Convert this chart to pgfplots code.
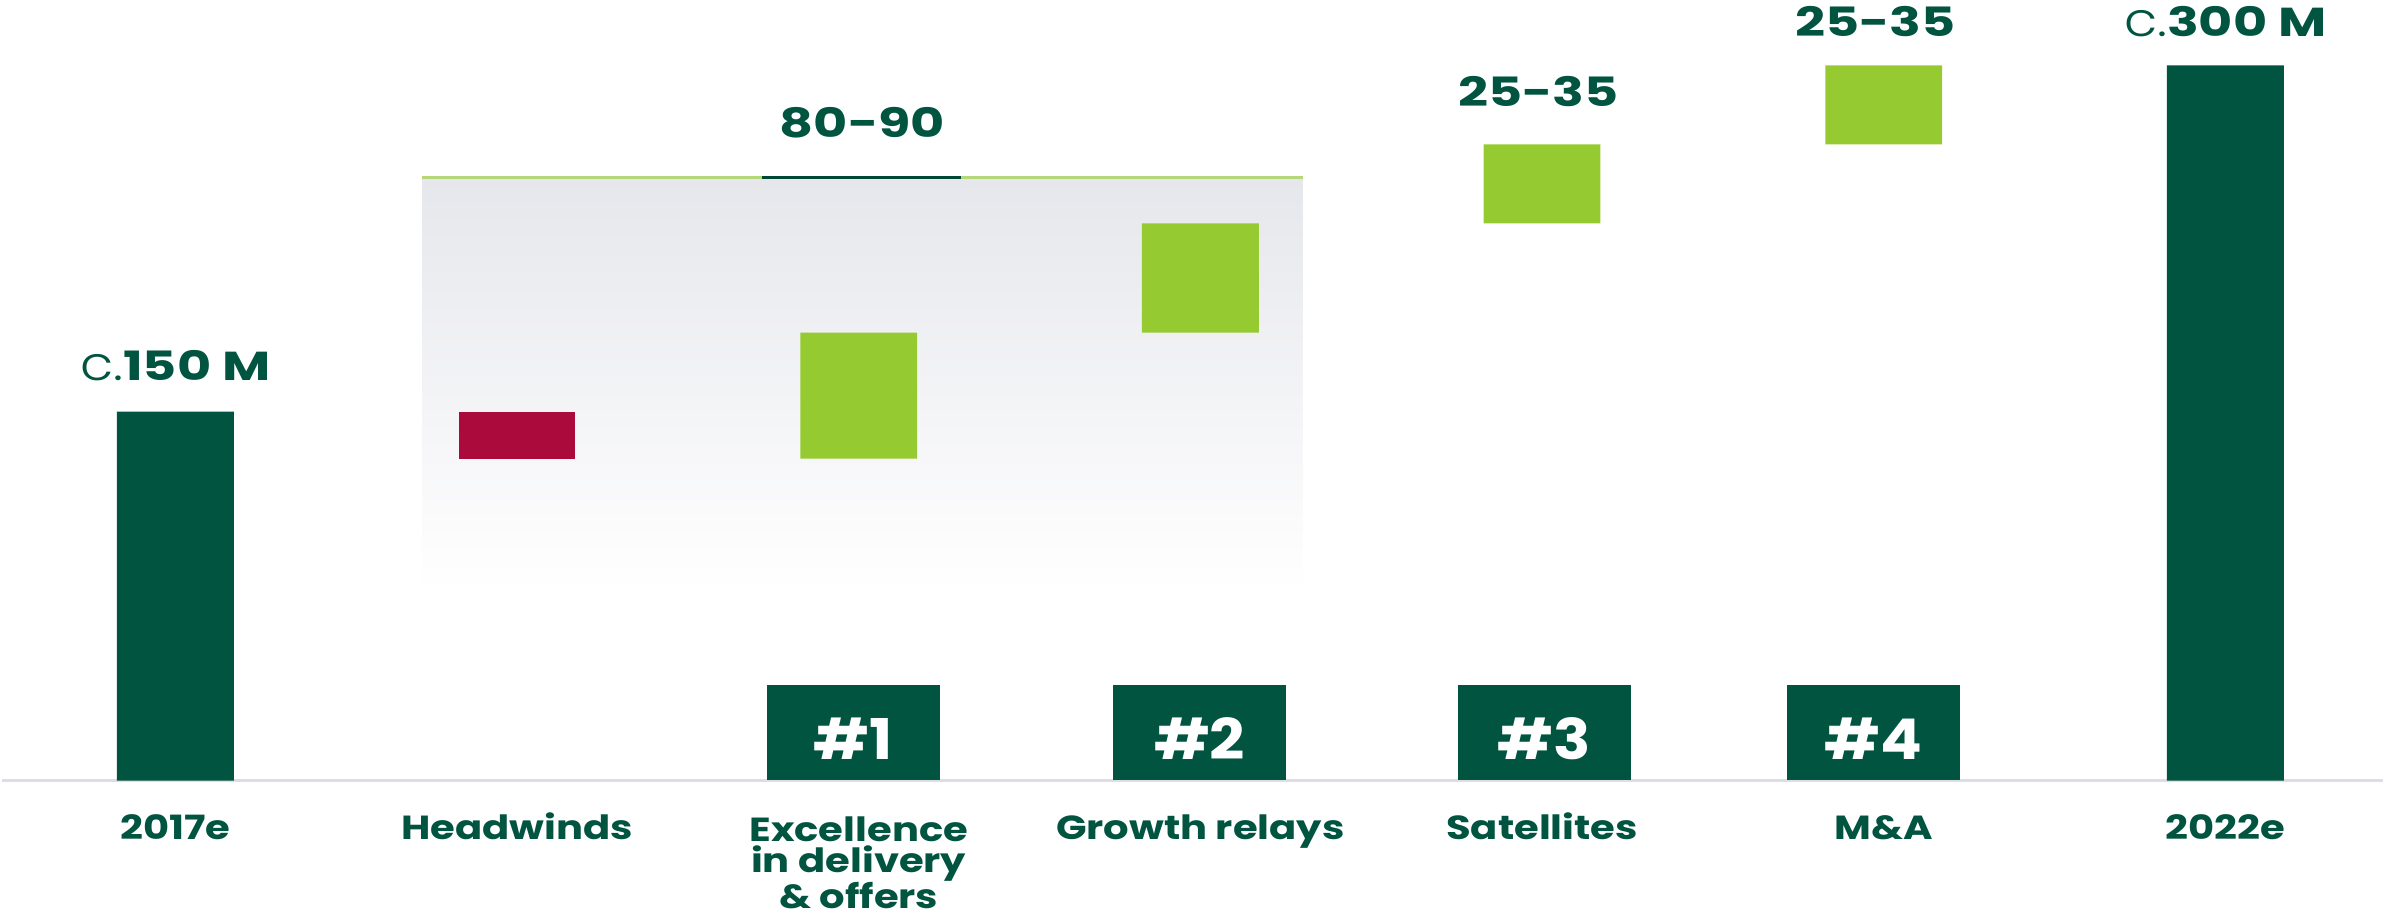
\documentclass[border=0pt]{standalone}
\usepackage{pgfplots}
\pgfplotsset{compat=1.18}
\usepackage{fontspec}
\setmainfont{Poppins}
\newfontfamily\labfont{Poppins}[FakeStretch=1.2]
\newfontfamily\valfont{Poppins}[FakeStretch=1.3]
\newfontfamily\boxfont{Poppins}[FakeStretch=1.1]
\newfontfamily\lightfont{Poppins Light}[FakeStretch=1.15]
\definecolor{dkgreen}{HTML}{005440}
\definecolor{ltgreen}{HTML}{95CB30}
\definecolor{wred}{HTML}{AB0A3D}
\definecolor{gradtop}{HTML}{E6E7EC}
\definecolor{basegray}{HTML}{DDDDE6}
\definecolor{topline}{HTML}{B5D77A}
\tikzset{
  catlab/.style={anchor=base, inner sep=0pt, text=dkgreen, align=center, font=\labfont\bfseries\fontsize{11}{10.8}\selectfont},
  vallab/.style={anchor=base, inner sep=0pt, text=dkgreen, font=\valfont\bfseries\fontsize{13.3}{14}\selectfont},
  boxlab/.style={text=white, anchor=base, inner sep=0pt, font=\boxfont\bfseries\fontsize{18.5}{20}\selectfont},
}
\begin{document}
\begin{tikzpicture}
% background (1 px of the 1568-wide view = 0.5pt; y measured from bottom)
\shade[top color=gradtop, bottom color=white, draw=none] (138.5pt,105.5pt) rectangle (428.5pt,242pt);
\draw[topline, line width=1.2pt] (138.5pt,242pt) -- (428.5pt,242pt);
\draw[dkgreen!85!black, line width=1.2pt] (250.5pt,242pt) -- (316pt,242pt);
\draw[basegray, line width=1pt] (0pt,43.5pt) -- (784pt,43.5pt);
\begin{axis}[
  at={(0pt,0pt)}, anchor=south west,
  scale only axis, width=784pt, height=300.5pt,
  xmin=-0.509, xmax=6.46, ymin=-53.7, ymax=317.3,
  axis lines=none, xtick=\empty, ytick=\empty,
  clip=false,
  ybar stacked, bar width=0.342,
]
% invisible base
\addplot[fill=none, draw=none] coordinates {(0,0) (1,130.9) (2,130.9) (3,182.1) (4,226.5) (5,258.6) (6,0)};
\addplot[fill=dkgreen, draw=none] coordinates {(0,150) (1,0) (2,0) (3,0) (4,0) (5,0) (6,290.7)};
\addplot[fill=wred, draw=none] coordinates {(0,0) (1,19.1) (2,0) (3,0) (4,0) (5,0) (6,0)};
\addplot[fill=ltgreen, draw=none] coordinates {(0,0) (1,0) (2,51.2) (3,44.4) (4,32.1) (5,32.1) (6,0)};
% value labels
\node[anchor=base, inner sep=0pt, text=dkgreen] at (axis cs:0,162.7)
  {{\lightfont\fontsize{15.5}{14}\selectfont c.}{\valfont\bfseries\fontsize{13.3}{14}\selectfont 150 M}};
\node[vallab] at (axis cs:2.011,261.5) {80-90};
\node[vallab] at (axis cs:3.989,274) {25-35};
\node[vallab] at (axis cs:4.976,302.5) {25-35};
\node[anchor=base, inner sep=0pt, text=dkgreen] at (axis cs:6.0,302.5)
  {{\lightfont\fontsize{15.5}{14}\selectfont c.}{\valfont\bfseries\fontsize{13.3}{14}\selectfont 300 M}};
% category labels
\node[catlab] at (axis cs:0,-24) {2017e};
\node[catlab] at (axis cs:1,-24) {Headwinds};
\node[catlab] at (axis cs:3,-24) {Growth relays};
\node[catlab] at (axis cs:4,-24) {Satellites};
\node[catlab] at (axis cs:5,-24) {M\&A};
\node[catlab] at (axis cs:6,-24) {2022e};
\node[catlab, anchor=north] at (axis cs:2,-14.5) {Excellence\\[-0.6pt]in delivery\\[-0.6pt]\& offers};
\path (rel axis cs:0,0) rectangle (rel axis cs:1,1);
\end{axis}
% number boxes
\fill[dkgreen] (252pt,43.5pt) rectangle (309pt,75pt);
\fill[dkgreen] (366pt,43.5pt) rectangle (423pt,75pt);
\fill[dkgreen] (479.5pt,43.5pt) rectangle (536.5pt,75pt);
\fill[dkgreen] (588pt,43.5pt) rectangle (645pt,75pt);
\node[boxlab] at (280.5pt,50.5pt) {\#1};
\node[boxlab] at (394.5pt,50.5pt) {\#2};
\node[boxlab] at (508pt,50.5pt) {\#3};
\node[boxlab] at (616.5pt,50.5pt) {\#4};
\end{tikzpicture}
\end{document}
